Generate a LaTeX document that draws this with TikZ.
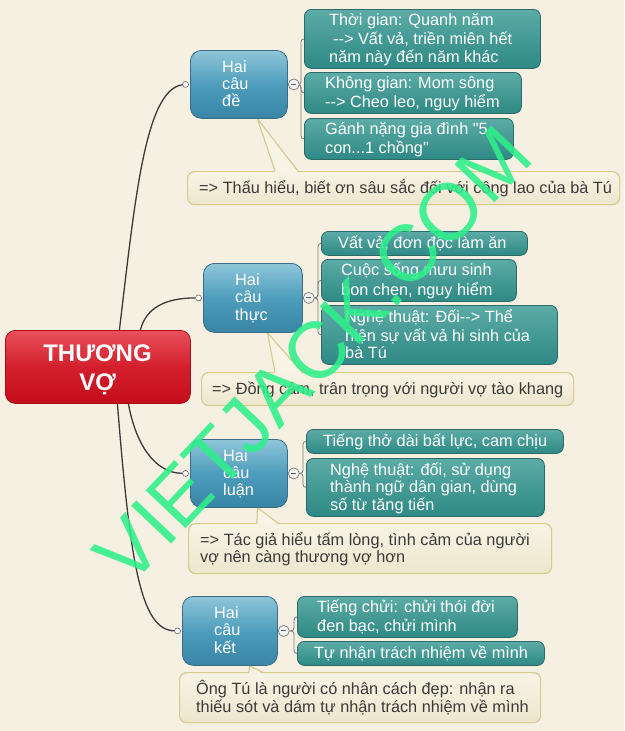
\documentclass[tikz,border=0pt]{standalone}
\usepackage{fontspec}
\setmainfont{Liberation Sans}[Ligatures=TeXOff]
\definecolor{bgc}{HTML}{F5F0E1}
\definecolor{tealtop}{HTML}{5CABA6}
\definecolor{tealbot}{HTML}{2E8984}
\definecolor{tealbd}{HTML}{2C6A67}
\definecolor{bluetop}{HTML}{8FC6DA}
\definecolor{bluemid}{HTML}{4E9DBC}
\definecolor{bluebot}{HTML}{3885A6}
\definecolor{bluebd}{HTML}{3B6C84}
\definecolor{redtop}{HTML}{E8505B}
\definecolor{redmid}{HTML}{D31F2D}
\definecolor{redbot}{HTML}{C40D1B}
\definecolor{redbd}{HTML}{A80C18}
\definecolor{callt}{HTML}{F8F4E5}
\definecolor{callb}{HTML}{EDE6CE}
\definecolor{callbd}{HTML}{D7CB90}
\definecolor{calltxt}{HTML}{3A3A3A}
\definecolor{linec}{HTML}{3A3A3A}
\definecolor{brkc}{HTML}{7A7A7A}
\definecolor{wmg}{HTML}{2EEF8A}
\pgfdeclarelayer{bg}\pgfdeclarelayer{curves}\pgfdeclarelayer{calls}\pgfdeclarelayer{ptr}\pgfdeclarelayer{wm}
\pgfsetlayers{bg,curves,calls,ptr,main,wm}
\newcommand\txtfont{\fontsize{16.3}{17.4}\selectfont}
\tikzset{
  kidbox/.style={draw=tealbd, line width=0.8pt, rounded corners=7pt, top color=tealtop, bottom color=tealbot, anchor=north west, inner sep=0pt},
  hubbox/.style={draw=bluebd, line width=0.8pt, rounded corners=11pt, top color=bluetop, bottom color=bluebot, middle color=bluemid, anchor=north west, inner sep=0pt},
  rootbox/.style={draw=redbd, line width=0.8pt, rounded corners=10pt, top color=redtop, bottom color=redbot, middle color=redmid, anchor=north west, inner sep=0pt},
  callbox/.style={draw=callbd, line width=1.2pt, rounded corners=7pt, top color=callt, bottom color=callb, anchor=north west, inner sep=0pt},
  wtxt/.style={anchor=west, align=left, text=white, font=\txtfont, inner sep=0pt},
  ctxt/.style={anchor=west, align=left, text=calltxt, font=\txtfont, inner sep=0pt},
  conn/.style={draw=linec, line width=1.3pt},
  brk/.style={draw=brkc, line width=0.8pt, rounded corners=3pt},
  dotc/.style={circle, minimum size=6pt, inner sep=0pt, fill=white, draw=black!60, line width=0.6pt},
  coll/.style={circle, minimum size=11pt, inner sep=0pt, fill=white!95!black, draw=brkc, line width=0.7pt,
    path picture={\draw[line width=0.9pt, black!65] ([xshift=-2.6pt]path picture bounding box.center) -- ([xshift=2.6pt]path picture bounding box.center);}},
  ptredge/.style={draw=callbd, line width=1.2pt},
  wmark/.style={rotate=46.5, text=wmg, opacity=0.88, font=\fontsize{80}{80}\selectfont, inner sep=0pt}
}
\newcommand\kid[7]{%
  \node[kidbox, minimum width=#4pt, minimum height=#5pt] (#1) at (#2,#3) {};
  \node[wtxt] (#1t) at (#6,#3+#5/2+2) {\strut#7\strut};}
\newcommand\hub[7]{%
  \node[hubbox, minimum width=#4pt, minimum height=#5pt] (#1) at (#2,#3) {};
  \node[wtxt] (#1t) at (#6,#3+#5/2+2) {\strut#7\strut};}
\newcommand\callout[7]{%
  \node[callbox, minimum width=#4pt, minimum height=#5pt] (#1) at (#2,#3) {};
  \node[ctxt] (#1t) at (#6,#3+#5/2+2) {\strut#7\strut};}
\newcommand\pointer[5]{%
  \fill[callt] ([xshift=#2pt]#1.south) -- ([xshift=#4pt,yshift=-1.6pt]#3.north west) -- ([xshift=#5pt,yshift=-1.6pt]#3.north west) -- cycle;
  \draw[ptredge] ([xshift=#4pt]#3.north west) -- ([xshift=#2pt]#1.south) -- ([xshift=#5pt]#3.north west);}
\begin{document}
\begin{tikzpicture}[x=1pt,y=-1pt]
\useasboundingbox (0,0) rectangle (624,731);
\begin{pgfonlayer}{bg}
  \fill[bgc] (0,0) rectangle (624,731);
\end{pgfonlayer}

% root
\node[rootbox, minimum width=185pt, minimum height=73pt] (root) at (5,330) {};
\node[anchor=center, align=center, text=white, inner sep=0pt, font=\bfseries\fontsize{24}{29}\selectfont] (roott) at (97.5,370.3) {\strut THƯƠNG\\VỢ\strut};

% hubs
\hub{m1}{190}{50}{97}{68}{222}{Hai\\câu\\đề}
\hub{m2}{203}{263}{99}{69}{235}{Hai\\câu\\thực}
\hub{m3}{190}{439}{97}{68}{223}{Hai\\câu\\luận}
\hub{m4}{182}{596}{95}{69}{214}{Hai\\câu\\kết}

% children
\kid{a1}{304}{9}{236}{59}{329}{Thời gian: Quanh năm\\\hspace*{4pt}--> Vất vả, triền miên hết\\năm này đến năm khác}
\kid{a2}{304}{72}{217}{41}{325}{Không gian: Mom sông\\--> Cheo leo, nguy hiểm}
\kid{a3}{304}{118}{209}{41}{325}{Gánh nặng gia đình "5\\con...1 chồng"}
\kid{b1}{321}{231}{206}{24}{338}{Vất vả, đơn độc làm ăn}
\kid{b2}{321}{259}{195}{42}{341}{Cuộc sống mưu sinh\\bon chen, nguy hiểm}
\kid{b3}{321}{305}{236}{59}{345}{Nghệ thuật: Đối--> Thể\\hiện sự vất vả hi sinh của\\bà Tú}
\kid{e1}{306}{429}{257}{24}{323}{Tiếng thở dài bất lực, cam chịu}
\kid{e2}{306}{458}{238}{58}{330}{Nghệ thuật: đối, sử dụng\\thành ngữ dân gian, dùng\\số từ tăng tiến}
\kid{f1}{297}{596}{220}{41}{317}{Tiếng chửi: chửi thói đời\\đen bạc, chửi mình}
\kid{f2}{297}{641}{247}{24}{314}{Tự nhận trách nhiệm về mình}

% callouts
\begin{pgfonlayer}{calls}
\callout{k1}{187}{171}{432}{33}{199}{=> Thấu hiểu, biết ơn sâu sắc đối với công lao của bà Tú}
\callout{k2}{201}{372}{372}{33}{212}{=> Đồng cảm, trân trọng với người vợ tào khang}
\callout{k3}{188}{523}{363}{50}{200}{=> Tác giả hiểu tấm lòng, tình cảm của người\\vợ nên càng thương vợ hơn}
\callout{k4}{179}{672}{361}{50}{196}{Ông Tú là người có nhân cách đẹp: nhận ra\\thiếu sót và dám tự nhận trách nhiệm về mình}
\end{pgfonlayer}

% dots and collapse markers
\foreach \m/\d/\c in {m1/d1/c1, m2/d2/c2, m3/d3/c3, m4/d4/c4}{
  \node[dotc] (\d) at ([xshift=-4.5pt]\m.west) {};
  \node[coll] (\c) at ([xshift=6pt]\m.east) {};
}

\begin{pgfonlayer}{curves}
  \draw[conn] ([xshift=21.5pt]root.north) .. controls (135,200) and (145,90) .. (d1);
  \draw[conn] ([xshift=42.5pt]root.north) .. controls (146,308) and (165,298) .. (d2);
  \draw[conn] ([xshift=30.5pt]root.south) .. controls (136,445) and (155,473) .. (d3);
  \draw[conn] ([xshift=19.5pt]root.south) .. controls (130,560) and (140,630) .. (d4);
  \coordinate (br1) at ([xshift=-3pt]a1.west);
  \coordinate (br2) at ([xshift=-3pt]b1.west);
  \coordinate (br3) at ([xshift=-3pt]e1.west);
  \coordinate (br4) at ([xshift=-3pt]f1.west);
  \foreach \c/\b/\k in {c1/br1/a1, c1/br1/a2, c1/br1/a3, c2/br2/b1, c2/br2/b2, c2/br2/b3, c3/br3/e1, c3/br3/e2, c4/br4/f1, c4/br4/f2}{
    \draw[brk] (\c.east) -- (\b |- \c.east) |- (\k.west);
  }
\end{pgfonlayer}

\begin{pgfonlayer}{ptr}
  \pointer{m1}{18.5}{k1}{88}{111}
  \pointer{m2}{14.5}{k2}{74}{101}
  \pointer{m3}{18.5}{k3}{69}{90}
  \pointer{m4}{19.5}{k4}{70}{83}
\end{pgfonlayer}

\begin{pgfonlayer}{wm}
  \node[wmark] (wm) at (313,355) {VIETJACK.COM};
\end{pgfonlayer}
\end{tikzpicture}
\end{document}
